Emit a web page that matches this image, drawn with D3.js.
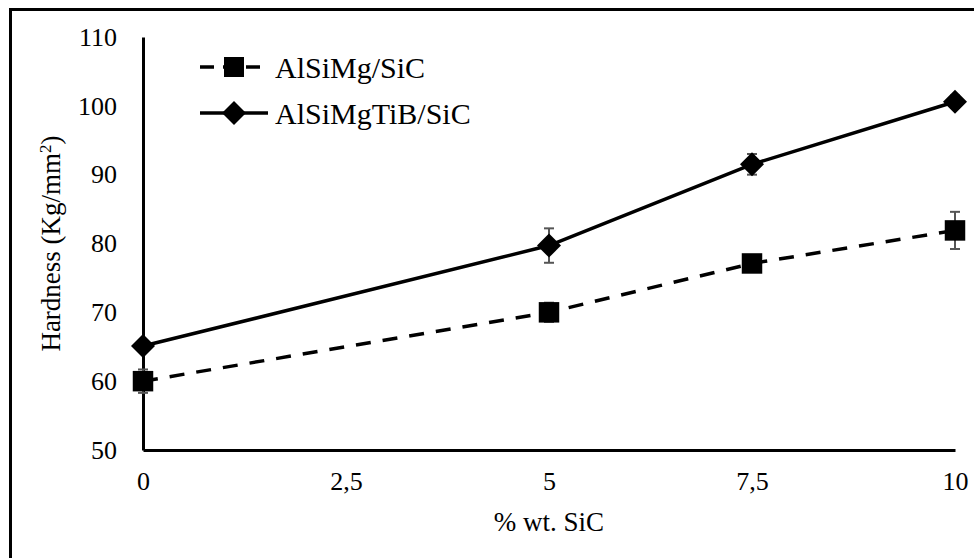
<!DOCTYPE html>
<html>
<head>
<meta charset="utf-8">
<script src="https://cdn.jsdelivr.net/npm/d3@7"></script>
<style>
	body { margin: 0; background: #fff; }
	svg text { font-family: "Liberation Serif", "DejaVu Serif", "Noto Serif", "Times New Roman", Times, serif; fill: #000; }
</style>
</head>
<body>
<svg id="chart" width="974" height="558"></svg>
<script>
// data
var sic = [0, 5, 7.5, 10];
var xTicks = [0, 2.5, 5, 7.5, 10];
var yTicks = [50, 60, 70, 80, 90, 100, 110];

var alSiMg = [60, 70, 77.1, 81.9];
var alSiMgErr = [1.7, 1.4, 1.0, 2.7];

var alSiMgTiB = [65.1, 79.7, 91.5, 100.6];
var alSiMgTiBErr = [0.5, 2.5, 1.5, 0.9];

var seriesNames = ['AlSiMg/SiC', 'AlSiMgTiB/SiC'];

var serif = '"Liberation Serif", "DejaVu Serif", "Noto Serif", "Times New Roman", Times, serif';

var svg = d3.select('#chart');

// frame round the whole figure (right and bottom edges cut off)
svg.append('rect')
	.attr('x', 10.5)
	.attr('y', 9.5)
	.attr('width', 1000)
	.attr('height', 600)
	.attr('fill', 'none')
	.attr('stroke', '#000')
	.attr('stroke-width', 3);

var xScale = d3.scaleLinear().domain([0, 10]).range([143, 955]);
var yScale = d3.scaleLinear().domain([50, 110]).range([450, 37]);

// axes
var xAxis = d3.axisBottom(xScale)
	.tickValues(xTicks)
	.tickSize(0)
	.tickPadding(22)
	.tickFormat(function(d){ return String(d).replace('.', ','); });

var yAxis = d3.axisLeft(yScale)
	.tickValues(yTicks)
	.tickSize(0)
	.tickPadding(26);

var gx = svg.append('g')
	.attr('transform', 'translate(0,' + yScale(50) + ')')
	.call(xAxis);
var gy = svg.append('g')
	.attr('transform', 'translate(' + xScale(0) + ',0)')
	.call(yAxis);

[gx, gy].forEach(function(g){
	g.attr('font-family', serif).attr('font-size', 26);
	g.select('.domain').attr('stroke', '#000').attr('stroke-width', 3);
	g.selectAll('text').attr('fill', '#000');
});

// axis titles
svg.append('text')
	.attr('x', (xScale(0) + xScale(10)) / 2)
	.attr('y', 531)
	.attr('text-anchor', 'middle')
	.style('font-size', '27px')
	.text('% wt. SiC');

var yTitle = svg.append('text')
	.attr('transform', 'translate(60,' + ((yScale(50) + yScale(110)) / 2) + ') rotate(-90)')
	.attr('text-anchor', 'middle')
	.style('font-size', '27px');
yTitle.append('tspan').text('Hardness (Kg/mm');
yTitle.append('tspan').attr('dy', -9).style('font-size', '17px').text('2');
yTitle.append('tspan').attr('dy', 9).text(')');

// error bars
function drawErrors(vals, errs){
	var cap = 5;
	sic.forEach(function(x, i){
		var g = svg.append('g').attr('stroke', '#555').attr('stroke-width', 2);
		var cx = xScale(x);
		g.append('line')
			.attr('x1', cx).attr('x2', cx)
			.attr('y1', yScale(vals[i] - errs[i])).attr('y2', yScale(vals[i] + errs[i]));
		[vals[i] - errs[i], vals[i] + errs[i]].forEach(function(v){
			g.append('line')
				.attr('x1', cx - cap).attr('x2', cx + cap)
				.attr('y1', yScale(v)).attr('y2', yScale(v));
		});
	});
}
drawErrors(alSiMg, alSiMgErr);
drawErrors(alSiMgTiB, alSiMgTiBErr);

var line = d3.line()
	.x(function(d){ return xScale(d[0]); })
	.y(function(d){ return yScale(d[1]); });

svg.append('path')
	.datum(d3.zip(sic, alSiMg))
	.attr('d', line)
	.attr('fill', 'none')
	.attr('stroke', '#000')
	.attr('stroke-width', 3.5)
	.attr('stroke-dasharray', '15,12');

svg.append('path')
	.datum(d3.zip(sic, alSiMgTiB))
	.attr('d', line)
	.attr('fill', 'none')
	.attr('stroke', '#000')
	.attr('stroke-width', 3.5);

var square = d3.symbol().type(d3.symbolSquare).size(420);
var diamond = function(s){
	return 'M0,' + (-s) + ' L' + s + ',0 L0,' + s + ' L' + (-s) + ',0 Z';
};

svg.selectAll('.sq')
	.data(d3.zip(sic, alSiMg))
	.enter().append('path')
	.attr('class', 'sq')
	.attr('transform', function(d){ return 'translate(' + xScale(d[0]) + ',' + yScale(d[1]) + ')'; })
	.attr('d', square())
	.attr('fill', '#000');

svg.selectAll('.dm')
	.data(d3.zip(sic, alSiMgTiB))
	.enter().append('path')
	.attr('class', 'dm')
	.attr('transform', function(d){ return 'translate(' + xScale(d[0]) + ',' + yScale(d[1]) + ')'; })
	.attr('d', diamond(12))
	.attr('fill', '#000');

// legend
var legend = svg.append('g');
var lx0 = 200, lx1 = 268;

legend.append('line')
	.attr('x1', lx0).attr('x2', lx1).attr('y1', 67).attr('y2', 67)
	.attr('stroke', '#000').attr('stroke-width', 3.5)
	.attr('stroke-dasharray', '14,9');
legend.append('path')
	.attr('transform', 'translate(' + ((lx0 + lx1) / 2) + ',67)')
	.attr('d', d3.symbol().type(d3.symbolSquare).size(400)())
	.attr('fill', '#000');

legend.append('line')
	.attr('x1', lx0).attr('x2', lx1).attr('y1', 113).attr('y2', 113)
	.attr('stroke', '#000').attr('stroke-width', 3.5);
legend.append('path')
	.attr('transform', 'translate(' + ((lx0 + lx1) / 2) + ',113)')
	.attr('d', diamond(12))
	.attr('fill', '#000');

legend.selectAll('text')
	.data(seriesNames)
	.enter().append('text')
	.attr('x', 275)
	.attr('y', function(d, i){ return 67 + i * 46; })
	.attr('dy', '0.35em')
	.style('font-size', '30px')
	.text(function(d){ return d; });
</script>
</body>
</html>
